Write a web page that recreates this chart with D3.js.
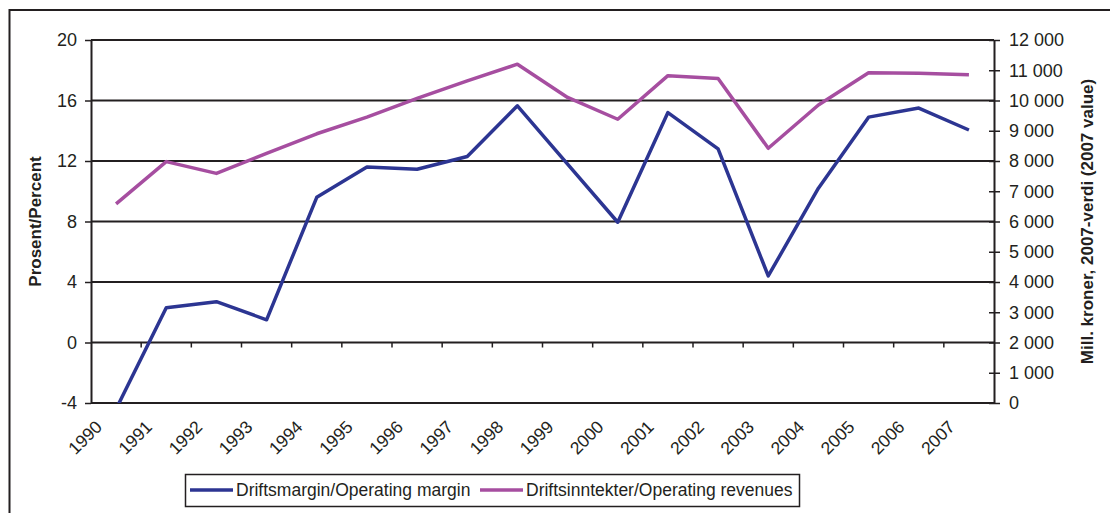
<!DOCTYPE html>
<html lang="en">
<head>
  <meta charset="UTF-8">
  <title>Driftsmargin og driftsinntekter</title>
  <style>
    body, html {
      margin: 0;
      padding: 0;
      background-color: #fff;
    }
    #svg text {
      font-family: "Liberation Sans", Arial, Helvetica, sans-serif;
      fill: #231f20;
    }
  </style>
</head>
<body>
  <svg id="svg" width="1110" height="513"></svg>
  <script src="https://d3js.org/d3.v7.min.js"></script>
  <script>
    const years = ['1990', '1991', '1992', '1993', '1994', '1995', '1996', '1997', '1998',
      '1999', '2000', '2001', '2002', '2003', '2004', '2005', '2006', '2007']
    // Driftsmargin, prosent (venstre akse)
    const opMargin = [-4.4, 2.3, 2.7, 1.5, 9.6, 11.6, 11.45, 12.3, 15.65,
      11.8, 7.95, 15.2, 12.8, 4.4, 10.2, 14.9, 15.5, 14.05]
    // Driftsinntekter, mill. kroner (hoyre akse)
    const revenues = [6580, 7980, 7590, 8250, 8900, 9450, 10070, 10650, 11200,
      10100, 9380, 10820, 10730, 8420, 9850, 10920, 10900, 10850]
    const leftTicks = [-4, 0, 4, 8, 12, 16, 20]
    const rightTicks = [0, 1000, 2000, 3000, 4000, 5000, 6000, 7000, 8000, 9000, 10000, 11000, 12000]
    const seriesNames = ['Driftsmargin/Operating margin', 'Driftsinntekter/Operating revenues']

    const dark = '#231f20'
    const blue = '#2c3592'
    const magenta = '#a64ea0'

    const pLeft = 91, pRight = 994, pTop = 40, pBottom = 403

    const svg = d3.select('#svg')

    // outer frame
    svg.append('rect')
      .attr('x', 9.5).attr('y', 10)
      .attr('width', 1130).attr('height', 530)
      .attr('fill', '#fff')
      .attr('stroke', dark)
      .attr('stroke-width', 2)

    const xScale = d3.scaleBand().domain(years).range([pLeft, pRight])
    const yLeft = d3.scaleLinear().domain([-4, 20]).range([pBottom, pTop])
    const yRight = d3.scaleLinear().domain([0, 12000]).range([pBottom, pTop])

    // gridlines
    svg.append('g')
      .selectAll('line')
      .data(leftTicks)
      .enter()
      .append('line')
      .attr('x1', pLeft).attr('x2', pRight)
      .attr('y1', d => yLeft(d)).attr('y2', d => yLeft(d))
      .attr('stroke', dark)
      .attr('stroke-width', 2)

    // left axis
    const leftAxis = d3.axisLeft(yLeft).tickValues(leftTicks).tickSize(6).tickSizeOuter(0).tickPadding(8)
      .tickFormat(d => String(d))
    const gl = svg.append('g')
      .attr('transform', `translate(${pLeft}, 0)`)
      .call(leftAxis)
    gl.select('.domain').attr('stroke', dark).attr('stroke-width', 2)
    gl.selectAll('.tick line').attr('stroke', dark).attr('stroke-width', 1.5)
    gl.selectAll('.tick text').style('font-size', '18px')

    // right axis
    const nb = d3.formatLocale({ decimal: ',', thousands: '\u00a0', grouping: [3], currency: ['', ''] })
    const rightAxis = d3.axisRight(yRight).tickValues(rightTicks).tickSize(6).tickSizeOuter(0)
      .tickPadding(9).tickFormat(nb.format(','))
    const gr = svg.append('g')
      .attr('transform', `translate(${pRight}, 0)`)
      .call(rightAxis)
    gr.select('.domain').attr('stroke', dark).attr('stroke-width', 2)
    gr.selectAll('.tick line').attr('x1', -5).attr('stroke', dark).attr('stroke-width', 1.5)
    gr.selectAll('.tick text').style('font-size', '18px')

    // category ticks on the zero line
    svg.append('g')
      .selectAll('line')
      .data(years.slice(1))
      .enter()
      .append('line')
      .attr('x1', d => xScale(d)).attr('x2', d => xScale(d))
      .attr('y1', yLeft(0)).attr('y2', yLeft(0) + 5)
      .attr('stroke', dark)
      .attr('stroke-width', 1.5)

    // rotated year labels
    svg.append('g')
      .selectAll('text')
      .data(years)
      .enter()
      .append('text')
      .attr('text-anchor', 'end')
      .attr('transform', d => `translate(${xScale(d) + xScale.bandwidth() / 2 - 13}, 428) rotate(-45)`)
      .style('font-size', '17.5px')
      .text(d => d)

    // lines
    svg.append('clipPath').attr('id', 'plot')
      .append('rect')
      .attr('x', pLeft).attr('y', pTop - 5)
      .attr('width', pRight - pLeft).attr('height', pBottom - pTop + 5)

    const cx = d => xScale(d) + xScale.bandwidth() / 2
    const lineLeft = d3.line().x((d, i) => cx(years[i])).y(d => yLeft(d))
    const lineRight = d3.line().x((d, i) => cx(years[i])).y(d => yRight(d))

    svg.append('path')
      .datum(revenues)
      .attr('d', lineRight)
      .attr('fill', 'none')
      .attr('stroke', magenta)
      .attr('stroke-width', 3.5)
      .attr('stroke-linejoin', 'round')
      .attr('clip-path', 'url(#plot)')

    svg.append('path')
      .datum(opMargin)
      .attr('d', lineLeft)
      .attr('fill', 'none')
      .attr('stroke', blue)
      .attr('stroke-width', 3.5)
      .attr('stroke-linejoin', 'round')
      .attr('clip-path', 'url(#plot)')

    // axis titles
    svg.append('text')
      .attr('transform', `translate(41, ${(pTop + pBottom) / 2}) rotate(-90)`)
      .attr('text-anchor', 'middle')
      .style('font-size', '17px')
      .style('font-weight', 'bold')
      .text('Prosent/Percent')

    svg.append('text')
      .attr('transform', `translate(1093, ${(pTop + pBottom) / 2}) rotate(-90)`)
      .attr('text-anchor', 'middle')
      .style('font-size', '17px')
      .style('font-weight', 'bold')
      .text('Mill. kroner, 2007-verdi (2007 value)')

    // legend
    const legend = svg.append('g')
    legend.append('rect')
      .attr('x', 185.5).attr('y', 474.5)
      .attr('width', 614).attr('height', 32)
      .attr('fill', '#fff')
      .attr('stroke', dark)
      .attr('stroke-width', 1.5)
    const legendItems = [
      { name: seriesNames[0], color: blue, x: 190 },
      { name: seriesNames[1], color: magenta, x: 480 }
    ]
    const li = legend.selectAll('g.item')
      .data(legendItems)
      .enter()
      .append('g')
      .attr('transform', d => `translate(${d.x}, 490)`)
    li.append('line')
      .attr('x1', 0).attr('x2', 43)
      .attr('stroke', d => d.color)
      .attr('stroke-width', 3.5)
    li.append('text')
      .attr('x', 46).attr('y', 6)
      .style('font-size', '17.5px')
      .text(d => d.name)
  </script>
</body>
</html>
